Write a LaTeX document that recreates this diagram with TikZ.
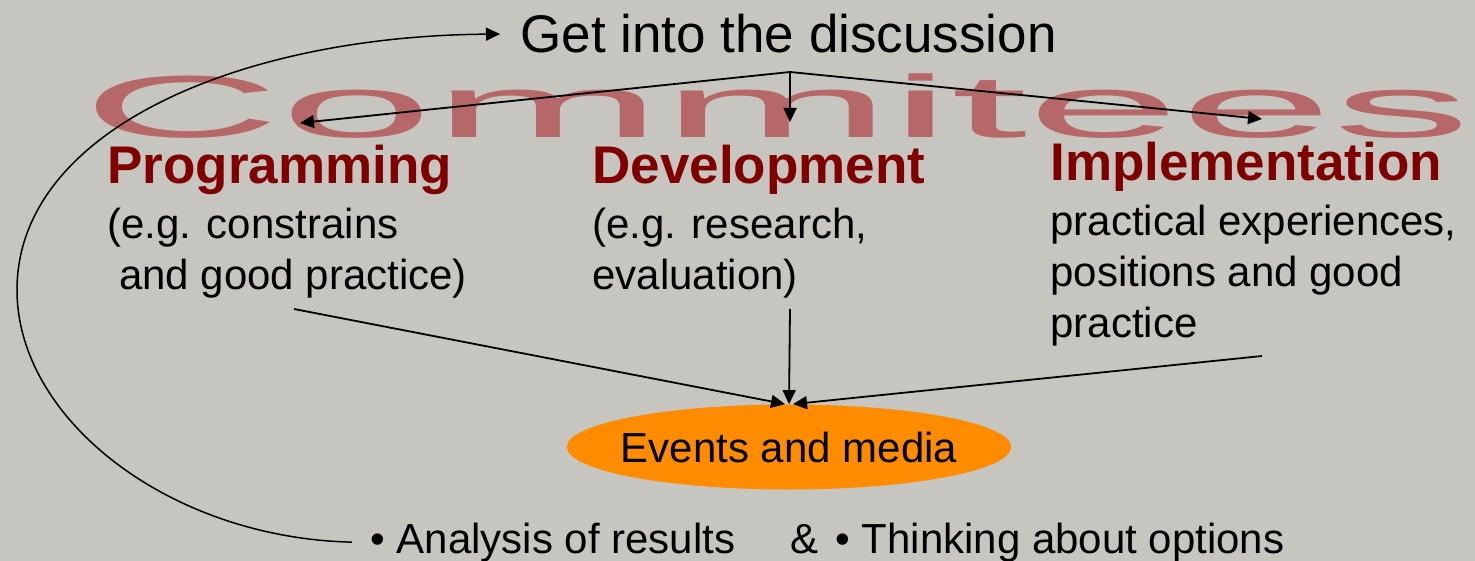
\documentclass[tikz,border=0pt]{standalone}
\usepackage{fontspec}
\setmainfont{Liberation Sans}
\usetikzlibrary{arrows.meta,shapes.geometric}
\definecolor{bgcol}{RGB}{199,197,191}
\definecolor{headred}{RGB}{128,0,0}
\definecolor{wordred}{RGB}{182,104,104}
\definecolor{evorange}{RGB}{255,140,0}
\tikzset{
  head/.style={anchor=base west, inner sep=0pt, text=headred, font=\fontsize{26.5}{31}\selectfont\bfseries},
  body/.style={anchor=base west, inner sep=0pt, align=left, font=\fontsize{21}{25.5}\selectfont},
  link/.style={line width=0.9pt, -{Triangle[length=7pt,width=6.5pt]}},
}
\begin{document}
\begin{tikzpicture}[x=0.5pt,y=0.5pt,yscale=-1,xscale=1]
% background, fixes the size
\fill [bgcol] (0,0) rectangle (1475,561);
\useasboundingbox (0,0) rectangle (1475,561);

% Big title word
\node (title) [anchor=base west, inner sep=0pt, text=wordred] at (82,138)
  {\scalebox{3.12}[1]{\fontsize{44}{44}\selectfont Commitees}};

% Text Node
\node (get) [anchor=base west, inner sep=0pt, font=\fontsize{26.5}{31}\selectfont] at (520,53) {Get into the discussion};

% Committee headings
\node (prog) [head] at (107,184) {Programming};
\node (dev) [head] at (592,184) {Development};
\node (impl) [head] at (1050,181) {Implementation};

% Committee descriptions (base = last line)
\node (progtxt) [body] at (107,289) {(e.g. constrains\\\ and good practice)};
\node (devtxt) [body] at (592,289) {(e.g. research,\\evaluation)};
\node (impltxt) [body] at (1050,337) {practical experiences,\\positions and good\\practice};

% Events
\node (events) [ellipse, fill=evorange, minimum height=42.5pt, inner xsep=-5.5pt, inner ysep=0pt,
  font=\fontsize{21}{25.5}\selectfont] at (789,447) {Events and media};

% Bottom line
\node (analysis) [anchor=base west, inner sep=0pt, font=\fontsize{21}{25.5}\selectfont] at (370,553) {• Analysis of results};
\node (amp) [anchor=base west, inner sep=0pt, font=\fontsize{21}{25.5}\selectfont] at (790,553) {\&};
\node (thinking) [anchor=base west, inner sep=0pt, font=\fontsize{21}{25.5}\selectfont] at (835,553) {• Thinking about options};

% Split from the discussion
\coordinate (split) at (790,72);
\coordinate (tipP) at (300,123);
\coordinate (tipD) at (790,122);
\coordinate (tipI) at (1262,119);
\draw [link] (split) -- (tipP);
\draw [link] (split) -- (tipD);
\draw [link] (split) -- (tipI);

% Into the events
\coordinate (fromP) at (294,309);
\coordinate (fromD) at (790,309);
\coordinate (fromI) at (1262,356);
\draw [link] (fromP) -- ([xshift=-2pt]events.north);
\draw [link] (fromD) -- (events.north);
\draw [link] (fromI) -- ([xshift=2pt]events.north);

% Loop back to the discussion
\draw [line width=0.75pt, -{Triangle[length=7pt,width=6.5pt]}]
  ([xshift=-9pt]analysis.west) .. controls (170,538) and (17,420) .. (17,290)
  .. controls (17,130) and (240,36) .. ([xshift=-10pt]get.west);

\end{tikzpicture}
\end{document}
